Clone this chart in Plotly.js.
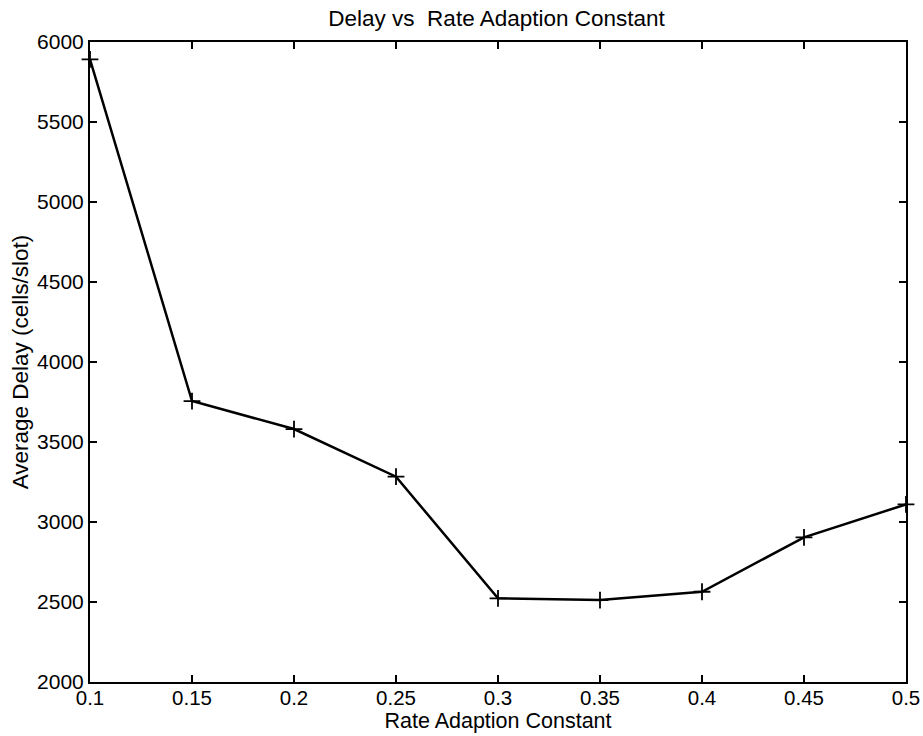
<!DOCTYPE html>
<html>
<head>
<meta charset="utf-8">
<script src="https://cdn.plot.ly/plotly-3.0.1.min.js"></script>
<style>html,body{margin:0;padding:0;background:#fff;}#chart{width:923px;height:736px;}</style>
</head>
<body>
<div id="chart"></div>
<script>
const rateConstant = [0.1, 0.15, 0.2, 0.25, 0.3, 0.35, 0.4, 0.45, 0.5];
const avgDelay = [5892, 3756, 3581, 3283, 2523, 2512, 2564, 2904, 3110];
const xTicks = [0.1, 0.15, 0.2, 0.25, 0.3, 0.35, 0.4, 0.45, 0.5];
const xTickLabels = ['0.1', '0.15', '0.2', '0.25', '0.3', '0.35', '0.4', '0.45', '0.5'];
const yTicks = [2000, 2500, 3000, 3500, 4000, 4500, 5000, 5500, 6000];

const fontFam = 'Liberation Sans, Arial, Helvetica, sans-serif';

const trace = {
  x: rateConstant,
  y: avgDelay,
  type: 'scatter',
  mode: 'lines+markers',
  line: {color: '#000', width: 2.5},
  marker: {symbol: 'cross-thin', size: 12, line: {color: '#000', width: 1.8}, color: '#000'},
  hoverinfo: 'x+y',
  cliponaxis: false
};

const axisCommon = {
  showgrid: false,
  zeroline: false,
  showline: true,
  linecolor: '#000',
  linewidth: 2,
  mirror: 'ticks',
  ticks: 'inside',
  ticklen: 7,
  tickwidth: 1.5,
  tickcolor: '#000',
  tickfont: {family: fontFam, size: 21, color: '#000'}
};

const layout = {
  width: 923,
  height: 736,
  margin: {l: 90, r: 17, t: 42, b: 54},
  paper_bgcolor: '#fff',
  plot_bgcolor: '#fff',
  showlegend: false,
  font: {family: fontFam, color: '#000'},
  title: {
    text: 'Delay vs  Rate Adaption Constant',
    font: {family: fontFam, size: 22.5, color: '#000'},
    x: 0.538, xanchor: 'center', y: 0.975, yanchor: 'middle'
  },
  xaxis: Object.assign({}, axisCommon, {
    range: [0.1, 0.5],
    tickvals: xTicks,
    ticktext: xTickLabels,
    tickfont: {family: fontFam, size: 20.5, color: '#000'},
    ticklabelstandoff: -4,
    title: {text: 'Rate Adaption Constant', font: {family: fontFam, size: 21.5, color: '#000'}, standoff: 0}
  }),
  yaxis: Object.assign({}, axisCommon, {
    range: [2000, 6000],
    tickvals: yTicks,
    ticktext: yTicks.map(String),
    title: {text: 'Average Delay (cells/slot)', font: {family: fontFam, size: 22.5, color: '#000'}, standoff: 2}
  })
};

Plotly.newPlot('chart', [trace], layout, {displayModeBar: false, staticPlot: true});
</script>
</body>
</html>
